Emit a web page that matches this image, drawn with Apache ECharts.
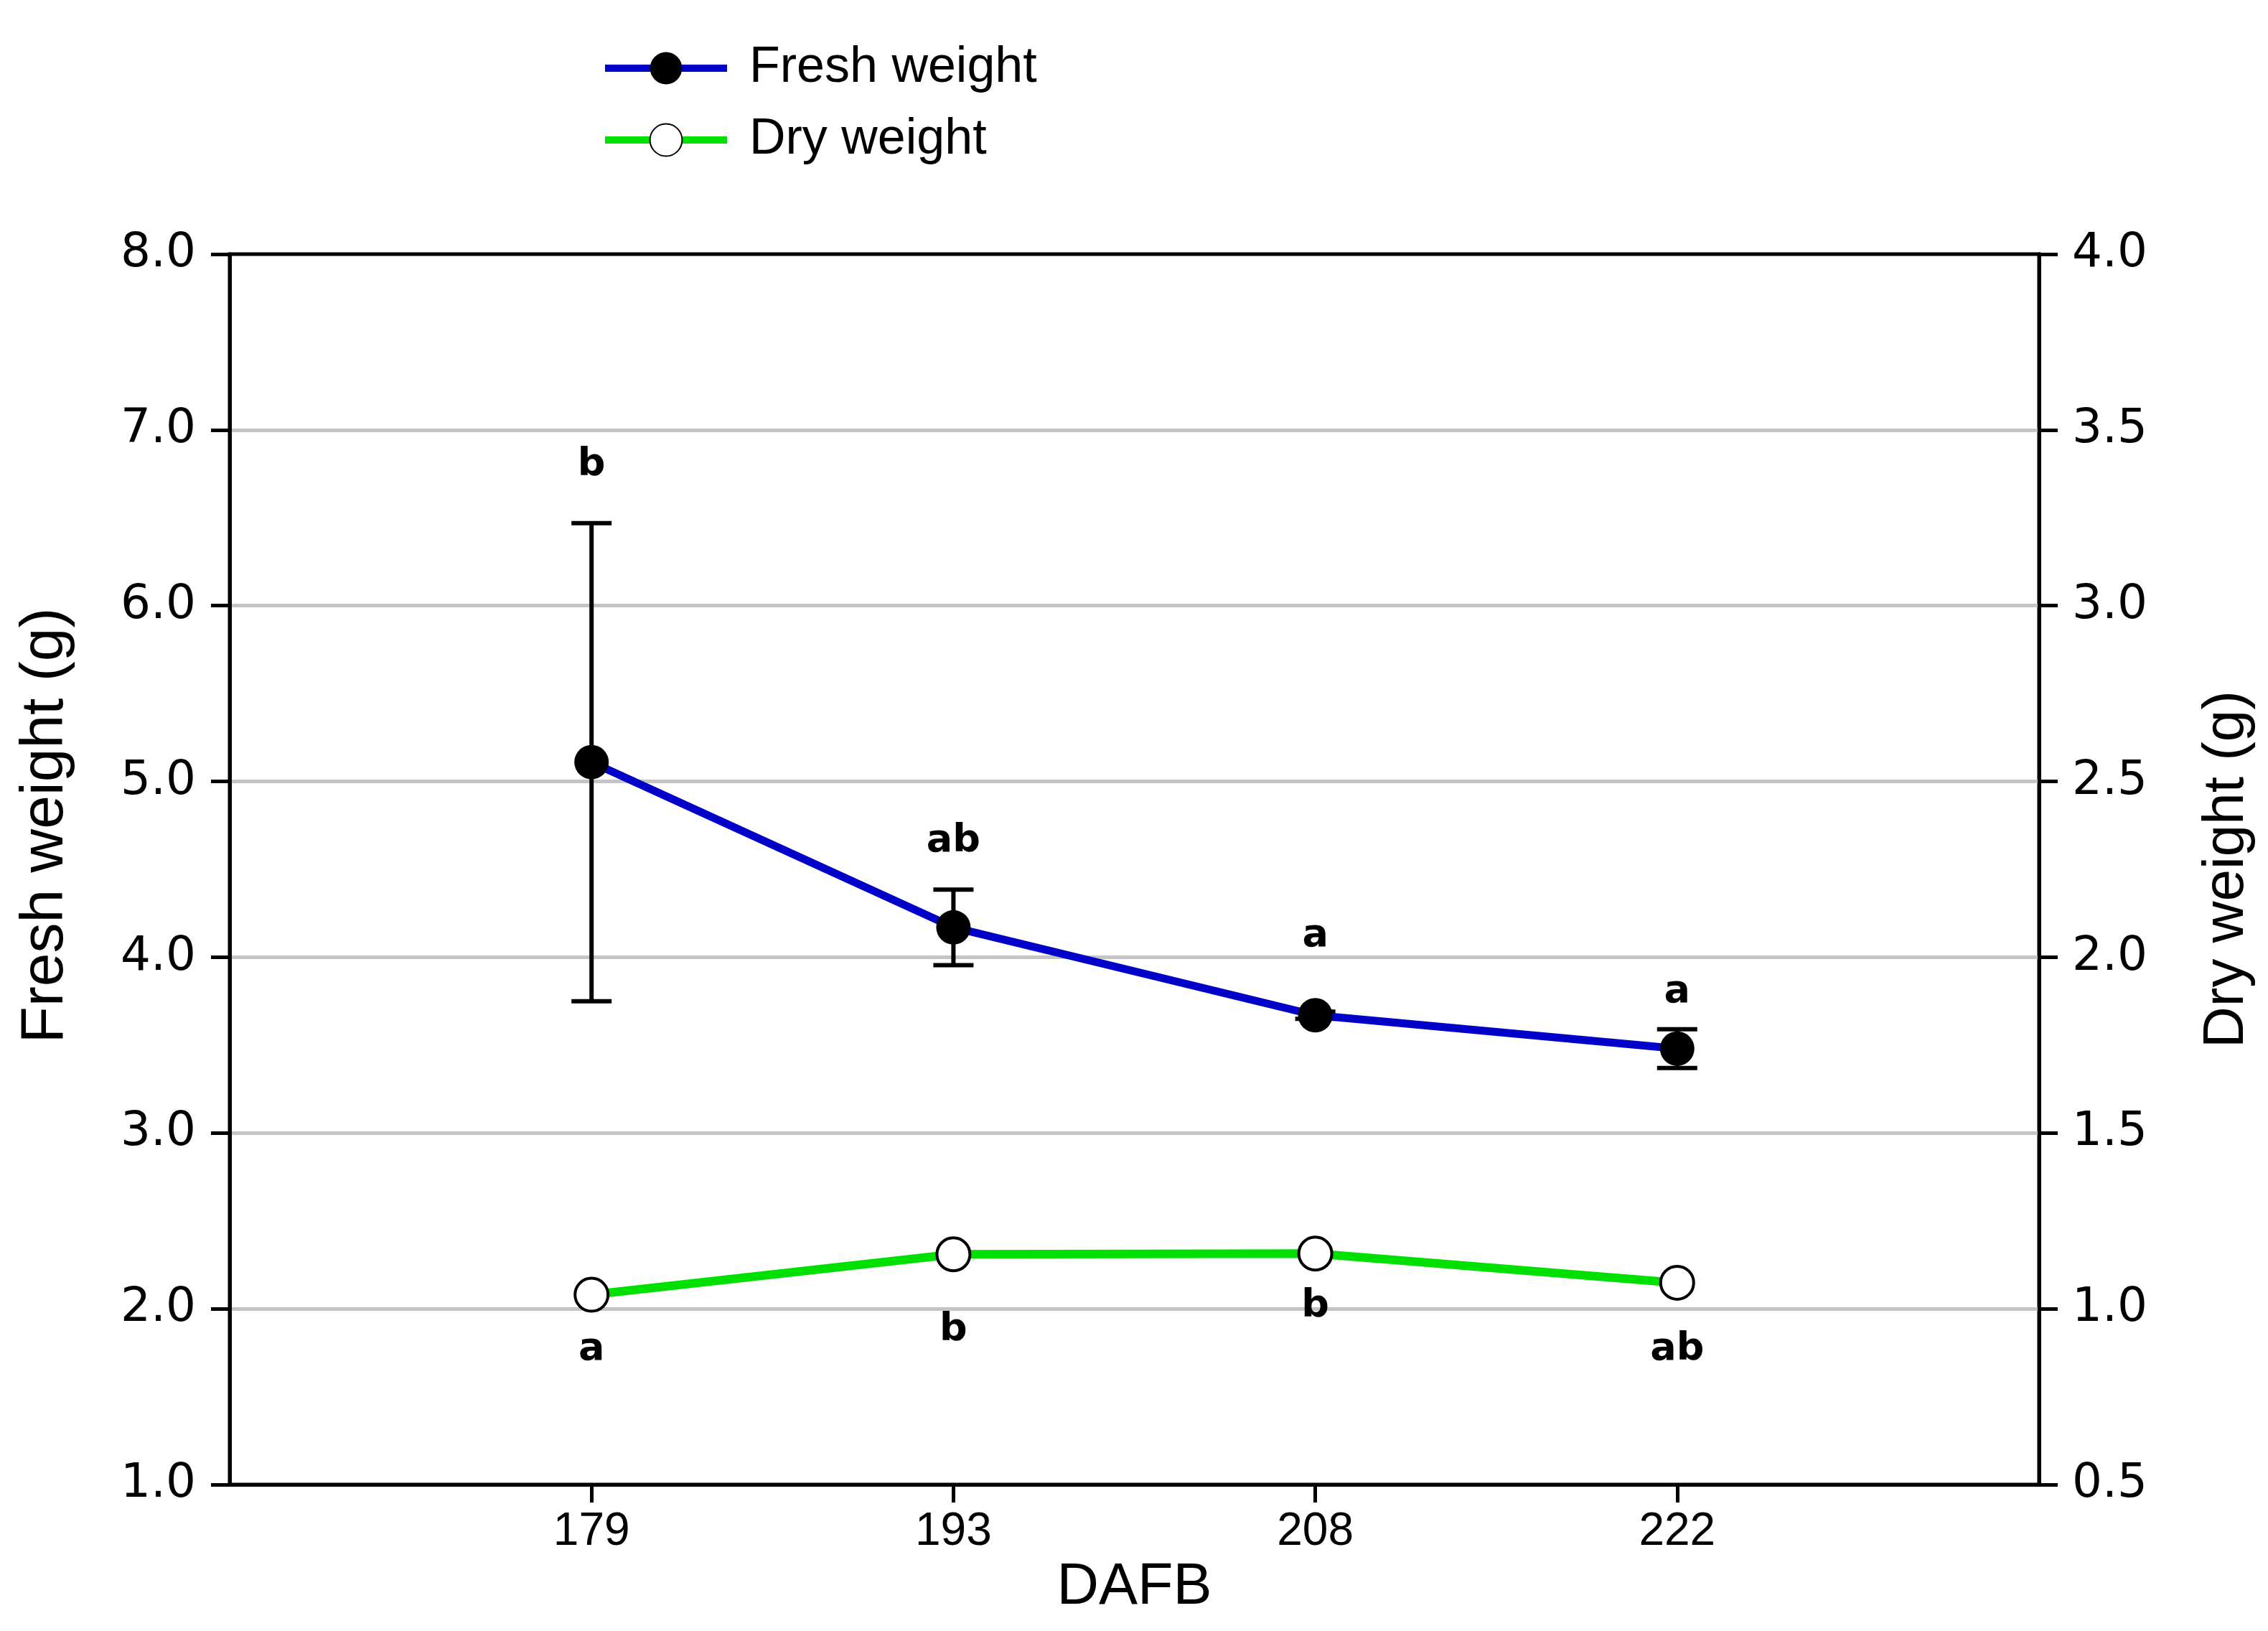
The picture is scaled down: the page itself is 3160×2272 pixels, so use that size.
<!DOCTYPE html>
<html>
<head>
<meta charset="utf-8">
<script src="https://cdn.jsdelivr.net/npm/echarts@6/dist/echarts.min.js"></script>
<style>
  html, body { margin: 0; padding: 0; background: #fff; }
  #chart { width: 3160px; height: 2272px; }
</style>
</head>
<body>
<div id="chart"></div>
<script>
// ---- data ----
const days = ['179', '193', '208', '222'];
const freshWeight = [5.11, 4.17, 3.67, 3.48];
const freshErr = [1.36, 0.215, 0.02, 0.11];
const freshLetters = ['b', 'ab', 'a', 'a'];
const freshLetterY = [6.80, 4.66, 4.12, 3.80];
const dryWeight = [1.04, 1.155, 1.157, 1.074];
const dryLetters = ['a', 'b', 'b', 'ab'];
const dryLetterY = [0.884, 0.939, 1.006, 0.884];
const leftTicks = { min: 1, max: 8, interval: 1 };
const rightTicks = { min: 0.5, max: 4, interval: 0.5 };

const chart = echarts.init(document.getElementById('chart'));

const tickFont = { fontFamily: 'DejaVu Sans', fontSize: 66, color: '#000' };
const xPos = days.map((d, i) => i + 1);

const letterSeries = (letters, ys, axisIndex) => ({
  type: 'custom',
  yAxisIndex: axisIndex,
  z: 10,
  silent: true,
  data: ys.map((y, i) => [xPos[i], y]),
  renderItem: (params, api) => {
    const p = api.coord([api.value(0), api.value(1)]);
    return {
      type: 'text',
      x: p[0], y: p[1],
      style: {
        text: letters[params.dataIndex],
        fontFamily: 'DejaVu Sans',
        fontWeight: 'bold',
        fontSize: 54,
        fill: '#000',
        align: 'center',
        verticalAlign: 'middle'
      }
    };
  }
});

const option = {
  animation: false,
  backgroundColor: '#fff',
  grid: {
    left: 320, right: 319, top: 354, bottom: 204,
    show: true, borderColor: '#000', borderWidth: 5, backgroundColor: 'transparent'
  },
  legend: {
    orient: 'vertical',
    left: 833, top: 55,
    itemWidth: 170, itemHeight: 56, itemGap: 30,
    data: ['Fresh weight', 'Dry weight'],
    lineStyle: { width: 10 },
    textStyle: { fontFamily: 'Liberation Sans', fontSize: 70, color: '#000', padding: [0, 0, 0, 26] }
  },
  xAxis: {
    type: 'value',
    min: 0, max: days.length + 1, interval: 1,
    name: 'DAFB',
    nameLocation: 'middle',
    nameGap: 100,
    nameTextStyle: { fontFamily: 'Liberation Sans', fontSize: 81, color: '#000' },
    axisLine: { show: true, lineStyle: { color: '#000', width: 5 } },
    axisTick: { show: true, inside: false, length: 25, lineStyle: { color: '#000', width: 5 }, customValues: xPos },
    axisLabel: {
      fontFamily: 'Liberation Sans', fontSize: 64, color: '#000', margin: 34,
      customValues: xPos,
      formatter: v => days[v - 1] || ''
    },
    splitLine: { show: false }
  },
  yAxis: [
    {
      type: 'value',
      position: 'left',
      min: leftTicks.min, max: leftTicks.max, interval: leftTicks.interval,
      name: 'Fresh weight (g)',
      nameLocation: 'middle',
      nameRotate: 90,
      nameGap: 214,
      nameTextStyle: { fontFamily: 'Liberation Sans', fontSize: 84, color: '#000', padding: [0, 0, 0, 122] },
      axisLine: { show: true, lineStyle: { color: '#000', width: 5 } },
      axisTick: { show: true, inside: false, length: 26, lineStyle: { color: '#000', width: 5 } },
      axisLabel: Object.assign({ margin: 47, formatter: v => v.toFixed(1) }, tickFont),
      splitLine: { show: true, showMinLine: false, showMaxLine: false, lineStyle: { color: '#c4c4c4', width: 5 } }
    },
    {
      type: 'value',
      position: 'right',
      min: rightTicks.min, max: rightTicks.max, interval: rightTicks.interval,
      name: 'Dry weight (g)',
      nameLocation: 'middle',
      nameRotate: 90,
      nameGap: 222,
      nameTextStyle: { fontFamily: 'Liberation Sans', fontSize: 80, color: '#000' },
      axisLine: { show: true, lineStyle: { color: '#000', width: 5 } },
      axisTick: { show: true, inside: false, length: 26, lineStyle: { color: '#000', width: 5 } },
      axisLabel: Object.assign({ margin: 46, formatter: v => v.toFixed(1) }, tickFont),
      splitLine: { show: false }
    }
  ],
  series: [
    {
      type: 'custom',
      name: 'err',
      yAxisIndex: 0,
      z: 1,
      silent: true,
      data: freshWeight.map((v, i) => [xPos[i], v - freshErr[i], v + freshErr[i]]),
      renderItem: (params, api) => {
        const x = api.value(0);
        const lo = api.coord([x, api.value(1)]);
        const hi = api.coord([x, api.value(2)]);
        const half = 28;
        const st = { stroke: '#000', lineWidth: 6 };
        return {
          type: 'group',
          children: [
            { type: 'line', shape: { x1: lo[0], y1: lo[1], x2: hi[0], y2: hi[1] }, style: st },
            { type: 'line', shape: { x1: lo[0] - half, y1: lo[1], x2: lo[0] + half, y2: lo[1] }, style: st },
            { type: 'line', shape: { x1: hi[0] - half, y1: hi[1], x2: hi[0] + half, y2: hi[1] }, style: st }
          ]
        };
      }
    },
    {
      type: 'line',
      name: 'Fresh weight',
      yAxisIndex: 0,
      z: 3,
      data: freshWeight.map((v, i) => [xPos[i], v]),
      symbol: 'circle',
      symbolSize: 48,
      lineStyle: { color: '#0000c8', width: 11 },
      itemStyle: { color: '#000', borderColor: '#000', borderWidth: 0 }
    },
    {
      type: 'line',
      name: 'Dry weight',
      yAxisIndex: 1,
      z: 3,
      data: dryWeight.map((v, i) => [xPos[i], v]),
      symbol: 'circle',
      symbolSize: 46,
      lineStyle: { color: '#00e000', width: 12 },
      itemStyle: { color: '#fff', borderColor: '#000', borderWidth: 4 }
    },
    letterSeries(freshLetters, freshLetterY, 0),
    letterSeries(dryLetters, dryLetterY, 1)
  ]
};

chart.setOption(option);
</script>
</body>
</html>
